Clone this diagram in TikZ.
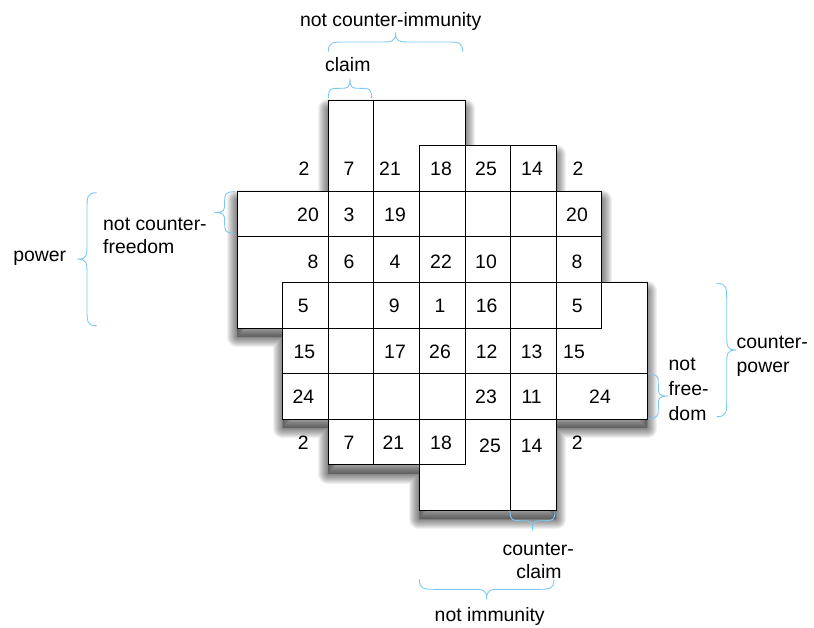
\documentclass[tikz,border=0pt]{standalone}
\usepackage{fontspec}
\setmainfont{Liberation Sans}
\definecolor{bracecol}{RGB}{125,200,242}
\newcommand\fsz{\fontsize{19.4}{23}\selectfont}
\newcommand\HBrace[5]{%
  \draw[bracestyle] (#1,#3) .. controls (#1,{(#3+#4)/2}) and ({#1+0.3*#5},{(#3+#4)/2}) .. ({#1+#5},{(#3+#4)/2})
    -- ({(#1+#2)/2-#5},{(#3+#4)/2}) .. controls ({(#1+#2)/2-0.2*#5},{(#3+#4)/2}) and ({(#1+#2)/2},{(#3+#4)/2}) .. ({(#1+#2)/2},#4)
    .. controls ({(#1+#2)/2},{(#3+#4)/2}) and ({(#1+#2)/2+0.2*#5},{(#3+#4)/2}) .. ({(#1+#2)/2+#5},{(#3+#4)/2})
    -- ({#2-#5},{(#3+#4)/2}) .. controls ({#2-0.3*#5},{(#3+#4)/2}) and (#2,{(#3+#4)/2}) .. (#2,#3);}
\newcommand\VBrace[5]{%
  \draw[bracestyle] (#3,#1) .. controls ({(#3+#4)/2},#1) and ({(#3+#4)/2},{#1+0.3*#5}) .. ({(#3+#4)/2},{#1+#5})
    -- ({(#3+#4)/2},{(#1+#2)/2-#5}) .. controls ({(#3+#4)/2},{(#1+#2)/2-0.2*#5}) and ({(#3+#4)/2},{(#1+#2)/2}) .. (#4,{(#1+#2)/2})
    .. controls ({(#3+#4)/2},{(#1+#2)/2}) and ({(#3+#4)/2},{(#1+#2)/2+0.2*#5}) .. ({(#3+#4)/2},{(#1+#2)/2+#5})
    -- ({(#3+#4)/2},{#2-#5}) .. controls ({(#3+#4)/2},{#2-0.3*#5}) and ({(#3+#4)/2},#2) .. (#3,#2);}
\begin{document}
\begin{tikzpicture}[x=1pt,y=-1pt,
  num/.style={font=\fsz, inner sep=0pt, anchor=base},
  lbl/.style={font=\fsz, inner sep=0pt, anchor=base},
  cellline/.style={line width=1pt, black, line cap=rect},
  bracestyle/.style={line width=0.9pt, bracecol},
  shadowlayer/.style={black, draw opacity=0.06, line join=round}]
\useasboundingbox (0,0) rectangle (814,627);
\begin{scope}[shift={(237,100)}, x=45.6pt, y=-45.6pt]
  \begin{scope}[yshift=-9pt]
    \fill[black, fill opacity=0.3] (2,0) -- (5,0) -- (5,1) -- (7,1) -- (7,2) -- (8,2) -- (8,4) -- (9,4) -- (9,7) -- (7,7) -- (7,9) -- (4,9) -- (4,8) -- (2,8) -- (2,7) -- (1,7) -- (1,5) -- (0,5) -- (0,2) -- (2,2) -- cycle;
    \foreach \w in {2,4,...,20} {
      \draw[shadowlayer, line width=\w pt] (2,0) -- (5,0) -- (5,1) -- (7,1) -- (7,2) -- (8,2) -- (8,4) -- (9,4) -- (9,7) -- (7,7) -- (7,9) -- (4,9) -- (4,8) -- (2,8) -- (2,7) -- (1,7) -- (1,5) -- (0,5) -- (0,2) -- (2,2) -- cycle;
    }
  \end{scope}
  \fill[white] (2,0) -- (5,0) -- (5,1) -- (7,1) -- (7,2) -- (8,2) -- (8,4) -- (9,4) -- (9,7) -- (7,7) -- (7,9) -- (4,9) -- (4,8) -- (2,8) -- (2,7) -- (1,7) -- (1,5) -- (0,5) -- (0,2) -- (2,2) -- cycle;
  \foreach \a/\b/\c in {2/5/0, 4/7/1, 0/8/2, 0/8/3, 1/9/4, 0/8/5, 1/9/6, 1/9/7, 2/5/8, 4/7/9}
    \draw[cellline] (\a,\c) -- (\b,\c);
  \foreach \a/\b/\c in {2/5/0, 4/7/1, 0/8/2, 0/8/3, 1/9/4, 0/8/5, 1/9/6, 1/9/7, 2/5/8, 4/7/9}
    \draw[cellline] (\c,\a) -- (\c,\b);
\end{scope}
% row 1
\node[num] (a1) at (304,175) {2};
\node[num] (a2) at (349,175) {7};
\node[num] (a3) at (390,175) {21};
\node[num] (a4) at (441,175) {18};
\node[num] (a5) at (486,175) {25};
\node[num] (a6) at (532,175) {14};
\node[num] (a7) at (578,175) {2};
% row 2
\node[num] (b1) at (308,221) {20};
\node[num] (b2) at (349,221) {3};
\node[num] (b3) at (395,221) {19};
\node[num] (b7) at (577,221) {20};
% row 3
\node[num] (c1) at (313,268) {8};
\node[num] (c2) at (349,268) {6};
\node[num] (c3) at (395,268) {4};
\node[num] (c4) at (441,268) {22};
\node[num] (c5) at (486,268) {10};
\node[num] (c7) at (577,268) {8};
% row 4
\node[num] (d1) at (303.3,312.3) {5};
\node[num] (d3) at (394.3,312.3) {9};
\node[num] (d4) at (440,312.3) {1};
\node[num] (d5) at (486.7,312.3) {16};
\node[num] (d7) at (577.3,312.3) {5};
% row 5
\node[num] (e1) at (304.3,358) {15};
\node[num] (e3) at (395,358) {17};
\node[num] (e4) at (440,358) {26};
\node[num] (e5) at (486.7,358) {12};
\node[num] (e6) at (531.7,358) {13};
\node[num] (e7) at (574,358) {15};
% row 6
\node[num] (f1) at (303.3,403) {24};
\node[num] (f5) at (486,403) {23};
\node[num] (f6) at (531.7,403) {11};
\node[num] (f7) at (600,403) {24};
% row 7
\node[num] (g1) at (303.3,449.3) {2};
\node[num] (g2) at (349,449.3) {7};
\node[num] (g3) at (393.3,449.3) {21};
\node[num] (g4) at (441,449.3) {18};
\node[num] (g5) at (490,452) {25};
\node[num] (g6) at (531.7,452) {14};
\node[num] (g7) at (577.3,449.3) {2};
% braces
\HBrace{328.3}{462.7}{51.7}{32.3}{16}
\HBrace{328.3}{371.7}{98.3}{78.3}{10}
\VBrace{192.7}{325.7}{96.7}{77.3}{16}
\VBrace{191.7}{233.3}{235}{214.3}{10}
\VBrace{283.3}{416.7}{716.7}{736.7}{16}
\VBrace{374}{418.3}{648.3}{668.3}{10}
\HBrace{510}{555}{510.7}{530.7}{10}
\HBrace{419.3}{554}{579.3}{599.3}{16}
% labels
\node[lbl] (nci) at (390.7,26) {not counter-immunity};
\node[lbl] (clm) at (347.8,71.7) {claim};
\node[lbl] (pwr) at (39.7,261) {power};
\node[lbl, anchor=base west] (ncf1) at (103,230) {not counter-};
\node[lbl, anchor=base west] (ncf2) at (103,253.5) {freedom};
\node[lbl, anchor=base west] (cp1) at (736.5,348.5) {counter-};
\node[lbl, anchor=base west] (cp2) at (736.5,372) {power};
\node[lbl, anchor=base west] (nf1) at (668.5,370) {not};
\node[lbl, anchor=base west] (nf2) at (668.5,395.5) {free-};
\node[lbl, anchor=base west] (nf3) at (668.5,420.5) {dom};
\node[lbl] (cc1) at (538.3,555) {counter-};
\node[lbl] (cc2) at (539,578.5) {claim};
\node[lbl] (nim) at (489.7,621) {not immunity};
\end{tikzpicture}
\end{document}
